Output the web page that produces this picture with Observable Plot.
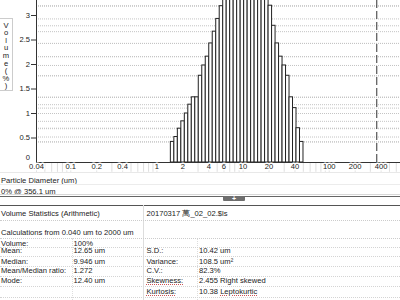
<!DOCTYPE html>
<html><head><meta charset="utf-8">
<script src="https://cdn.jsdelivr.net/npm/d3@7"></script>
<script src="https://cdn.jsdelivr.net/npm/@observablehq/plot@0.6"></script>
<style>
body{margin:0;background:#fff;font-family:"Liberation Sans",Arial,sans-serif;color:#222;}
#wrap{position:relative;width:400px;height:300px;overflow:hidden;background:#fff;}
#chart{position:absolute;left:0;top:0;}
.t{position:absolute;font-size:7.6px;line-height:9px;white-space:nowrap;color:#222;}
.hl{position:absolute;height:0;}
.vl{position:absolute;width:0;}
.ylab{position:absolute;left:0;top:18px;width:13px;height:73px;border-top:1px solid #ccc;border-right:1px solid #ccc;border-bottom:1px solid #ccc;box-sizing:border-box;}
.ylab span{position:absolute;left:0;width:12px;text-align:center;font-size:7.6px;line-height:8px;}
.btn{position:absolute;left:223px;top:196px;width:22px;height:5px;background:#6e6e6e;border-radius:1px;color:#fff;font-size:7px;line-height:5px;text-align:center;font-weight:bold;}
.sq{text-decoration:underline dotted #c55;}
</style></head>
<body><div id="wrap"></div>
<script>
// ---- data ----
const channelSize = [1.520, 1.669, 1.832, 2.011, 2.207, 2.423, 2.660, 2.920, 3.205, 3.519, 3.863, 4.240, 4.655, 5.110, 5.610,
  6.158, 6.760, 7.421, 8.147, 8.943, 9.818, 10.78, 11.83, 12.99, 14.26, 15.65, 17.18, 18.86,
  20.71, 22.73, 24.95, 27.39, 30.07, 33.01, 36.24, 39.78, 43.67, 47.94];
const volumePct = [0.42, 0.52, 0.69, 0.84, 1.00, 1.18, 1.33, 1.33, 1.77, 1.98, 2.16, 2.43, 2.67, 2.93, 3.19,
  3.6, 3.9, 4.15, 4.35, 4.5, 4.6, 4.65, 4.6, 4.5, 4.35, 4.15, 3.9, 3.55,
  3.2, 2.79, 2.43, 2.16, 1.98, 1.77, 1.33, 1.11, 0.70, 0.42];
const xTickLabels = [0.04, 0.1, 0.2, 0.4, 1, 2, 4, 6, 10, 20, 40, 100, 200, 400];
const yTickValues = [0, 0.5, 1, 1.5, 2, 2.5, 3];
const cutoffSize = 356.1;
const yLabel = "Volume (%)";
const xLabel = "Particle Diameter (um)";
const cutoffText = "0% @ 356.1 um";
const tableTitle = "Volume Statistics (Arithmetic)";
const fileName = "20170317 萬_02_02.$ls";
const calcRange = "Calculations from 0.040 um to 2000 um";
const statsLeft = [["Volume:", "100%"], ["Mean:", "12.65 um"], ["Median:", "9.946 um"], ["Mean/Median ratio:", "1.272"], ["Mode:", "12.40 um"]];
const statsRight = [["S.D.:", "10.42 um"], ["Variance:", "108.5 um²"], ["C.V.:", "82.3%"], ["Skewness:", "2.455 Right skewed"], ["Kurtosis:", "10.38 Leptokurtic"]];

// ---- derived ----
const n = channelSize.length;
const bars = channelSize.map((d, i) => ({
  x1: i > 0 ? Math.sqrt(channelSize[i - 1] * d) : d / Math.sqrt(channelSize[1] / d),
  x2: i < n - 1 ? Math.sqrt(d * channelSize[i + 1]) : d * Math.sqrt(d / channelSize[i - 1]),
  v: volumePct[i]
}));
const xMax = 671.5;
const minorTicks = [0.01, 0.1, 1, 10, 100].flatMap(b => d3.range(1, 10).map(k => +(k * b).toPrecision(3))).filter(v => v >= 0.04 && v <= xMax);

const chart = Plot.plot({
  width: 400, height: 176,
  marginLeft: 36, marginRight: 0, marginTop: 0, marginBottom: 14,
  style: {fontFamily: "Liberation Sans, Arial, sans-serif", fontSize: "7.6px", color: "#222", background: "white", overflow: "visible"},
  x: {type: "log", domain: [0.04, xMax], axis: null},
  y: {domain: [0, 162 / 49]},
  marks: [
    Plot.ruleY(volumePct, {stroke: "#c4c4c4", strokeDasharray: "1,1", clip: true}),
    Plot.ruleX(minorTicks, {x: d => d, y1: 0, y2: -0.2, stroke: "#dedede"}),
    Plot.rect(bars, {x1: "x1", x2: "x2", y1: 0, y2: "v", fill: "white", stroke: "#222", strokeWidth: 1, clip: true}),
    Plot.ruleX([cutoffSize], {stroke: "#333", strokeDasharray: "8,3"}),
    Plot.ruleY([0], {stroke: "#333"}),
    Plot.ruleX([0.04], {stroke: "#333"}),
    Plot.axisY({ticks: yTickValues.filter(v => v > 0), tickSize: 5, tickPadding: 1.5, tickFormat: d => String(d), stroke: "#333", label: null}),
    Plot.text([yTickValues[0]], {frameAnchor: "left", y: d => d, text: d => String(d), dx: -6.5, dy: -5, textAnchor: "end", fill: "#222"}),
    Plot.text(xTickLabels, {x: d => d, frameAnchor: "bottom", text: d => String(d), dy: 6.5, fill: "#222", stroke: "white", strokeWidth: 3})
  ]
});
chart.id = "chart";
const wrap = document.getElementById("wrap");
wrap.appendChild(chart);

function txt(s, x, yc, cls) {
  const e = document.createElement("div");
  e.className = "t" + (cls ? " " + cls : "");
  e.style.left = x + "px"; e.style.top = (yc - 4.5) + "px";
  e.textContent = s; wrap.appendChild(e); return e;
}
function hline(y, x0, x1, style) {
  const e = document.createElement("div"); e.className = "hl";
  e.style.left = x0 + "px"; e.style.width = (x1 - x0) + "px"; e.style.top = y + "px";
  e.style.borderTop = style; wrap.appendChild(e);
}
function vline(x, y0, y1, style) {
  const e = document.createElement("div"); e.className = "vl";
  e.style.left = x + "px"; e.style.top = y0 + "px"; e.style.height = (y1 - y0) + "px";
  e.style.borderLeft = style; wrap.appendChild(e);
}

// y label box
const yl = document.createElement("div"); yl.className = "ylab";
[...yLabel.replace(/ /g, "")].forEach((c, i) => {
  const s = document.createElement("span"); s.textContent = c; s.style.top = (2.5 + i * 7.6) + "px"; yl.appendChild(s);
});
wrap.appendChild(yl);

// below the chart
hline(172, 0, 400, "1px solid #e8e8e8");
txt(xLabel, 1, 180);
hline(184, 0, 400, "1px solid #ececec");
txt(cutoffText, 1, 191);
hline(194, 0, 400, "1px solid #d8d8d8");
hline(196, 0, 400, "1px solid #666");
const b = document.createElement("div"); b.className = "btn"; b.textContent = "+"; wrap.appendChild(b);

// table
hline(205, 0, 400, "1px solid #555");
vline(143, 205, 300, "1px solid #ddd");
vline(72, 238, 300, "1px dotted #ddd");
vline(197, 238, 300, "1px dotted #ddd");
txt(tableTitle, 1, 213);
txt(fileName, 146.5, 213);
hline(220, 0, 400, "1px dotted #ccc");
txt(calcRange, 1, 232.5);
hline(238, 0, 400, "1px dotted #ccc");
const rowY = [243, 250.5, 261, 270.5, 280, 291.5];
statsLeft.forEach((r, i) => { txt(r[0], 1, rowY[i]); txt(r[1], 73.5, rowY[i]); });
statsRight.forEach((r, i) => {
  txt(r[0], 146.5, rowY[i + 1], i >= 3 ? "sq" : "");
  const v = txt(r[1], 199, rowY[i + 1]);
  if (i === 4) { v.innerHTML = r[1].replace("Leptokurtic", '<span class="sq">Leptokurtic</span>'); }
});
[247, 255.5, 265.5, 275.5, 285.5, 297].forEach(y => hline(y, 0, 400, "1px dotted #d4d4d4"));
</script>
</body></html>
